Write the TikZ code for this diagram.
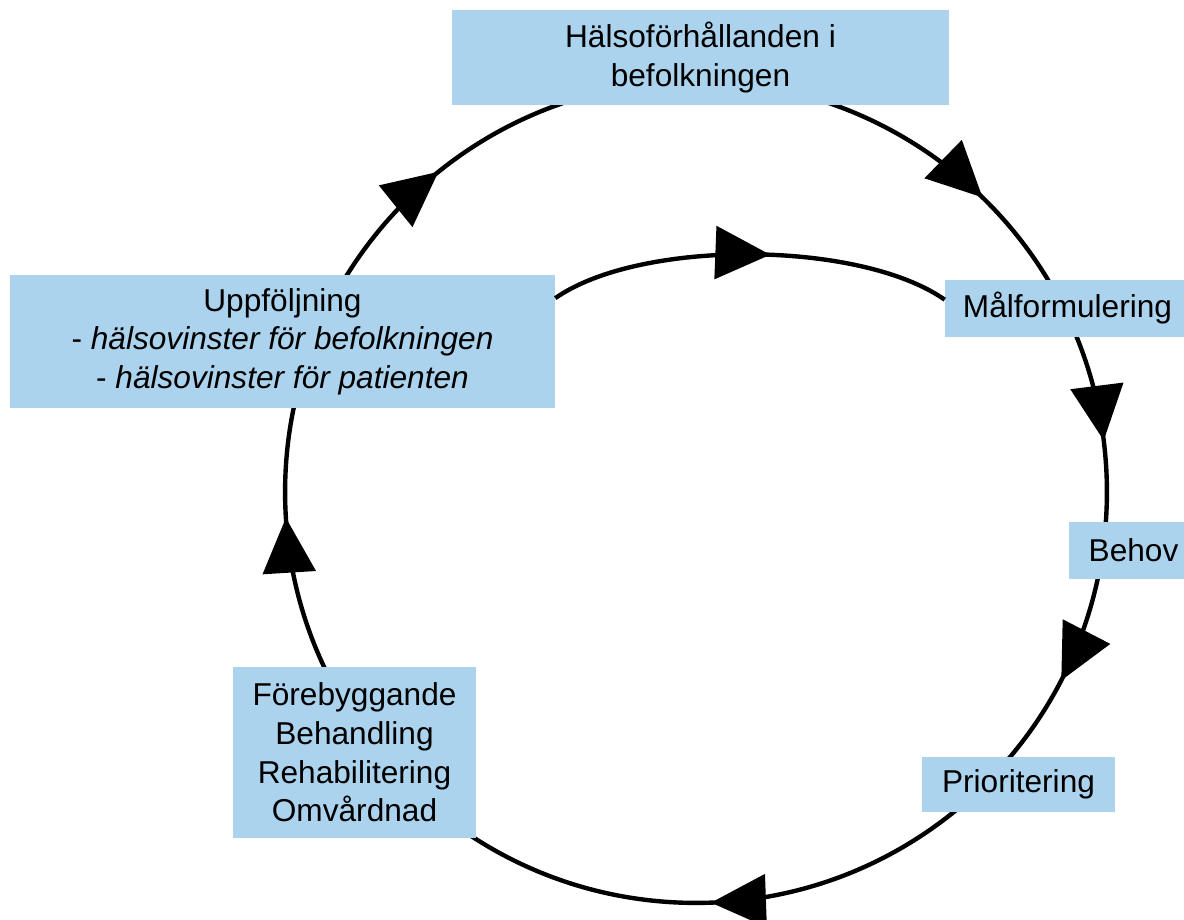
\documentclass[tikz,border=0pt]{standalone}
\usepackage{fontspec}
\setmainfont{Liberation Sans}
\usepackage{tikz}
\usetikzlibrary{arrows.meta, calc, decorations.markings}
\definecolor{boxblue}{RGB}{171,211,237}

\begin{document}
\begin{tikzpicture}[x=0.02cm, y=0.02cm,
		bigtri/.tip={Triangle[length=1.1cm, width=1.05cm]},
		loop/.style={line width=2.5pt},
		tip at/.style={postaction={decorate, decoration={markings, mark=at position #1 with {\arrow{bigtri}}}}},
		box/.style={fill=boxblue, inner sep=0pt, align=center, font=\fontsize{18}{22}\selectfont}]
		\useasboundingbox (0,0) rectangle (1184,920);
		\coordinate (O) at (696,428);
%
		\draw[loop, tip at=0.1228, tip at=0.23, tip at=0.3258, tip at=0.4942, tip at=0.74, tip at=0.8922]
			(O) ++(90:8.22cm) arc[start angle=90, end angle=-270, radius=8.22cm];
%
		\node[box, minimum width=9.94cm, minimum height=1.9cm] (H) at (700.5,862.5) {Hälsoförhållanden i\\befolkningen};
		\node[box, minimum width=4.9cm, minimum height=1.14cm] (M) at (1067.5,611.5) {Målformulering};
		\node[box, minimum width=2.58cm, minimum height=1.14cm] (B) at (1133.5,369.5) {Behov};
		\node[box, minimum width=3.86cm, minimum height=1.1cm] (P) at (1018.5,135.5) {Prioritering};
		\node[box, minimum width=4.86cm, minimum height=3.42cm] (F) at (354.5,167.5) {Förebyggande\\Behandling\\Rehabilitering\\Omvårdnad};
		\node[box, minimum width=10.9cm, minimum height=2.68cm] (U) at (282.5,578.5) {Uppföljning\\- \textit{hälsovinster för befolkningen}\\- \textit{hälsovinster för patienten}};
%
		\draw[loop, tip at=0.55] ($(U.north east)+(0,-24)$) to[out=35, in=145, looseness=0.68] ($(M.north west)+(0,-20)$);
	\end{tikzpicture}
\end{document}
